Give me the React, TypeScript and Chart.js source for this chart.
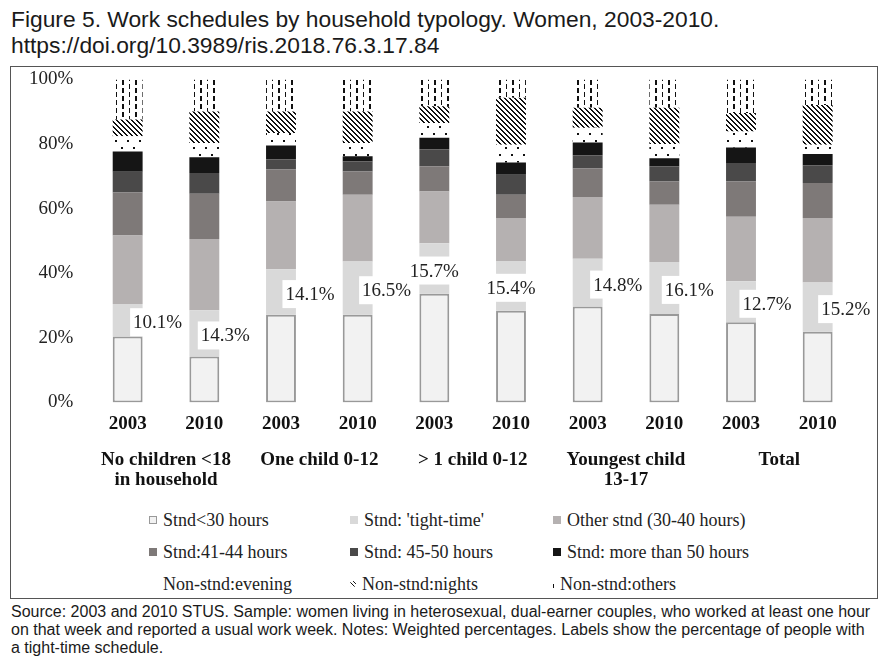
import { useEffect, useRef } from 'react'
import { Chart, registerables } from 'chart.js'
Chart.register(...registerables)

// bars: one per year inside each household type
const years = ['2003', '2010', '2003', '2010', '2003', '2010', '2003', '2010', '2003', '2010']
const groups = [['No children <18', 'in household'], ['One child 0-12'], ['> 1 child 0-12'], ['Youngest child', '13-17'], ['Total']]

// shares (%), bottom to top
const under30 = [20.4, 14.2, 27.1, 27.1, 33.6, 28.4, 29.7, 27.4, 24.8, 21.9]
const tightTime = [10.1, 14.3, 14.1, 16.5, 15.7, 15.4, 14.8, 16.1, 12.7, 15.2]
const otherStnd = [21.2, 22.1, 21.0, 20.7, 16.0, 13.3, 19.1, 17.7, 20.0, 20.0]
const h41to44 = [13.3, 14.0, 9.9, 7.2, 7.8, 7.2, 8.8, 7.2, 10.9, 10.8]
const h45to50 = [6.4, 6.4, 3.1, 3.1, 5.2, 6.2, 4.1, 4.6, 5.7, 5.5]
const over50 = [6.3, 4.9, 4.3, 1.6, 3.6, 3.8, 4.0, 2.6, 4.8, 3.5]
const evening = [4.7, 4.4, 3.9, 4.1, 4.6, 5.5, 4.5, 4.4, 5.0, 2.9]
const nights = [5.2, 9.8, 6.7, 9.8, 5.2, 14.5, 6.2, 11.2, 5.7, 12.3]
const others = [12.4, 9.9, 9.9, 9.9, 8.3, 5.7, 8.8, 8.8, 10.4, 7.9]

const yTicks = [0, 20, 40, 60, 80, 100]

// horizontal nudge of the tight-time labels (px)
const labelShift = [30, 21, 29, 29, 0, 0, 30, 25, 26, 28]

const SERIF = '"Liberation Serif", "Times New Roman", serif'
const SANS = '"Liberation Sans", Arial, sans-serif'

function makePattern(w: number, h: number, draw: (g: CanvasRenderingContext2D) => void) {
  const c = document.createElement('canvas')
  c.width = w
  c.height = h
  const g = c.getContext('2d')!
  g.fillStyle = '#fff'
  g.fillRect(0, 0, w, h)
  g.fillStyle = '#111'
  draw(g)
  return g.createPattern(c, 'repeat')!
}

const tightLabels = {
  id: 'tightLabels',
  afterDatasetsDraw(chart: any) {
    const meta = chart.getDatasetMeta(1)
    const ctx = chart.ctx
    ctx.save()
    ctx.font = '19px ' + SERIF
    ctx.textAlign = 'center'
    ctx.textBaseline = 'middle'
    meta.data.forEach((bar: any, i: number) => {
      const { x, y, base } = bar.getProps(['x', 'y', 'base'], true)
      const cy = (y + base) / 2 + 2
      const cx = x + labelShift[i]
      const text = tightTime[i].toFixed(1) + '%'
      const w = ctx.measureText(text).width + 6
      ctx.fillStyle = '#fff'
      ctx.fillRect(cx - w / 2, cy - 14, w, 28)
      ctx.fillStyle = '#222'
      ctx.fillText(text, cx, cy + 1)
    })
    ctx.restore()
  },
}

function BarChart() {
  const ref = useRef<HTMLCanvasElement | null>(null)
  useEffect(() => {
    if (!ref.current) return
    const ctx = ref.current.getContext('2d')!
    const eveningFill = makePattern(12, 14, g => {
      g.fillRect(2, 3, 2, 2)
      g.fillRect(8, 10, 2, 2)
    })
    const nightsFill = makePattern(5, 5, g => {
      for (let k = 0; k < 5; k++) {
        g.fillRect(k, k, 2, 1)
      }
      g.fillRect(0, 4, 1, 1)
    })
    const othersFill = makePattern(13, 16, g => {
      g.fillRect(1, 0, 1, 5)
      g.fillRect(1, 8, 1, 5)
      g.fillRect(7, 4, 2, 5)
      g.fillRect(7, 12, 2, 4)
      g.fillRect(7, 0, 2, 1)
    })
    const seg = (label: string, data: number[], color: any, extra: any = {}) => ({
      label, data, backgroundColor: color, borderWidth: 0,
      barPercentage: 0.39, categoryPercentage: 1, ...extra,
    })
    const chart = new Chart(ctx, {
      type: 'bar',
      data: {
        labels: years,
        datasets: [
          seg('Stnd<30 hours', under30, '#f2f2f2', { borderColor: '#999', borderWidth: 2, borderSkipped: false }),
          seg("Stnd: 'tight-time'", tightTime, '#d9d9d9'),
          seg('Other stnd (30-40 hours)', otherStnd, '#b5b1b1'),
          seg('Stnd:41-44 hours', h41to44, '#7e7978'),
          seg('Stnd: 45-50 hours', h45to50, '#4a4949'),
          seg('Stnd: more than 50 hours', over50, '#151515'),
          seg('Non-stnd:evening', evening, eveningFill),
          seg('Non-stnd:nights', nights, nightsFill),
          seg('Non-stnd:others', others, othersFill),
        ],
      },
      options: {
        animation: false,
        responsive: false,
        layout: { padding: { left: 10, right: 21, top: 0, bottom: 0 } },
        plugins: { legend: { display: false }, tooltip: { enabled: false } },
        scales: {
          x: {
            stacked: true,
            grid: { display: false },
            border: { display: false },
            ticks: { color: '#111', padding: 2, maxRotation: 0, font: { family: SERIF, size: 19, weight: 'bold' } },
          },
          x2: {
            type: 'category',
            labels: groups as any,
            position: 'bottom',
            offset: true,
            grid: { display: false },
            border: { display: false },
            ticks: { color: '#111', padding: 4, maxRotation: 0, font: { family: SERIF, size: 19, weight: 'bold', lineHeight: 1.1 } },
          },
          y: {
            stacked: true,
            min: 0,
            max: 100,
            afterBuildTicks: (axis: any) => { axis.ticks = yTicks.map(v => ({ value: v })) },
            grid: { display: false },
            border: { display: false },
            ticks: { color: '#222', padding: 8, callback: (v: any) => v + '%', font: { family: SERIF, size: 19 } },
          },
        },
      },
      plugins: [tightLabels],
    } as any)
    return () => chart.destroy()
  }, [])
  return <canvas ref={ref} width={866} height={435} style={{ display: 'block', marginTop: -7 }} />
}

const legendRows = [
  [
    { label: 'Stnd<30 hours', mark: { background: '#f2f2f2', border: '1px solid #999' } },
    { label: "Stnd: 'tight-time'", mark: { background: '#d9d9d9' } },
    { label: 'Other stnd (30-40 hours)', mark: { background: '#b5b1b1' } },
  ],
  [
    { label: 'Stnd:41-44 hours', mark: { background: '#7e7978' } },
    { label: 'Stnd: 45-50 hours', mark: { background: '#4a4949' } },
    { label: 'Stnd: more than 50 hours', mark: { background: '#151515' } },
  ],
  [
    { label: 'Non-stnd:evening', mark: { background: 'transparent' } },
    { label: 'Non-stnd:nights', mark: { background: 'repeating-linear-gradient(45deg, #111 0 1px, #fff 1px 3px)', width: 6, height: 6, borderRadius: 3 } },
    { label: 'Non-stnd:others', mark: { background: 'transparent', borderLeft: '1px solid #111', width: 1, height: 4, marginTop: 4 } },
  ],
]
const legendCols = [149, 350, 553]
const legendRowY = [520, 552, 584]

export default function App() {
  return (
    <div style={{ position: 'fixed', left: 0, top: 0, width: 890, height: 664, background: '#fff', overflow: 'hidden' }}>
      <div style={{ position: 'absolute', left: 11, top: 6, font: '22.8px ' + SANS, lineHeight: '26px', color: '#1a1a1a' }}>
        Figure 5. Work schedules by household typology. Women, 2003-2010.
        <br />
        https://doi.org/10.3989/ris.2018.76.3.17.84
      </div>
      <div style={{ position: 'absolute', left: 10, top: 66, width: 866, height: 531, border: '1px solid #555' }}>
        <BarChart />
      </div>
      {legendRows.map((row, r) =>
        row.map((item, c) => (
          <div key={r + '-' + c} style={{ position: 'absolute', left: legendCols[c], top: legendRowY[r] - 12, height: 24, display: 'flex', alignItems: 'center', font: '18px ' + SERIF, color: '#222', whiteSpace: 'nowrap' }}>
            <span style={{ display: 'inline-block', width: 8, height: 8, marginRight: 6, boxSizing: 'border-box', ...item.mark }} />
            {item.label}
          </div>
        ))
      )}
      <div style={{ position: 'absolute', left: 11, top: 603, width: 875, font: '16px ' + SANS, lineHeight: '18px', color: '#1a1a1a', whiteSpace: 'nowrap' }}>
        Source: 2003 and 2010 STUS. Sample: women living in heterosexual, dual-earner couples, who worked at least one hour
        <br />
        on that week and reported a usual work week. Notes: Weighted percentages. Labels show the percentage of people with
        <br />
        a tight-time schedule.
      </div>
    </div>
  )
}
